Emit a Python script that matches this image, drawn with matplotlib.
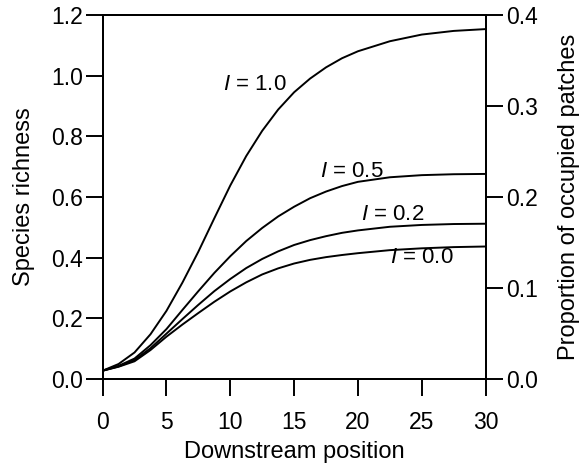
import numpy as np
import matplotlib
matplotlib.use("Agg")
import matplotlib.pyplot as plt

plt.rcParams["font.family"] = ["Liberation Sans", "DejaVu Sans"]
plt.rcParams["mathtext.fontset"] = "custom"
plt.rcParams["mathtext.rm"] = "Liberation Sans"
plt.rcParams["mathtext.it"] = "Liberation Sans:italic"

# downstream position
posicao = [0, 1.25, 2.5, 3.75, 5, 6.25, 7.5, 8.75, 10, 11.25, 12.5, 13.75,
           15, 16.25, 17.5, 18.75, 20, 22.5, 25, 27.5, 30]

# species richness for each immigration level I
riqueza_10 = [0.028, 0.050, 0.088, 0.148, 0.225, 0.318, 0.420, 0.530, 0.638,
              0.735, 0.818, 0.888, 0.945, 0.990, 1.027, 1.057, 1.080,
              1.113, 1.135, 1.147, 1.153]
riqueza_05 = [0.028, 0.044, 0.068, 0.112, 0.165, 0.228, 0.290, 0.350, 0.405,
              0.455, 0.498, 0.536, 0.568, 0.596, 0.618, 0.636, 0.650,
              0.665, 0.672, 0.675, 0.676]
riqueza_02 = [0.028, 0.042, 0.063, 0.102, 0.150, 0.198, 0.245, 0.290, 0.330,
              0.366, 0.396, 0.421, 0.442, 0.458, 0.471, 0.482, 0.490,
              0.502, 0.508, 0.511, 0.512]
riqueza_00 = [0.028, 0.041, 0.059, 0.096, 0.140, 0.180, 0.218, 0.255, 0.289,
              0.319, 0.345, 0.365, 0.381, 0.393, 0.402, 0.409, 0.415,
              0.425, 0.431, 0.435, 0.437]

rotulos = ["$I$ = 1.0", "$I$ = 0.5", "$I$ = 0.2", "$I$ = 0.0"]
rotulo_x = [11.9, 19.55, 22.7, 25.0]
rotulo_y = [0.969, 0.684, 0.541, 0.401]

fig = plt.figure(figsize=(5.83, 4.63), dpi=100)
ax = fig.add_axes([0.176, 0.181, 0.657, 0.787])

for serie in [riqueza_10, riqueza_05, riqueza_02, riqueza_00]:
    ax.plot(posicao, serie, color="black", lw=1.4)

for txt, tx, ty in zip(rotulos, rotulo_x, rotulo_y):
    ax.text(tx, ty, txt, fontsize=16, ha="center", va="center")

ax.set_xlim(0, 30)
ax.set_ylim(0, 1.2)
ax.set_xticks([0, 5, 10, 15, 20, 25, 30])
ax.set_yticks(np.arange(0, 1.21, 0.2))
ax.set_yticklabels([f"{v:.1f}" for v in np.arange(0, 1.21, 0.2)])
ax.tick_params(axis="x", direction="out", length=12, width=1.4, pad=11, labelsize=16.5)
ax.tick_params(axis="y", direction="out", length=12, width=1.4, pad=2, labelsize=16.5)
ax.set_xlabel("Downstream position", fontsize=17, labelpad=5)
ax.set_ylabel("Species richness", fontsize=17, labelpad=12)

ax2 = ax.twinx()
ax2.set_ylim(0, 0.4)
ax2.set_yticks([0.0, 0.1, 0.2, 0.3, 0.4])
ax2.set_yticklabels(["0.0", "0.1", "0.2", "0.3", "0.4"])
ax2.tick_params(axis="y", direction="out", length=12, width=1.4, pad=3, labelsize=16.5)
ax2.set_ylabel("Proportion of occupied patches", fontsize=17, labelpad=14)

for a in (ax, ax2):
    for s in a.spines.values():
        s.set_linewidth(1.4)

fig.savefig("out.png", dpi=100)
